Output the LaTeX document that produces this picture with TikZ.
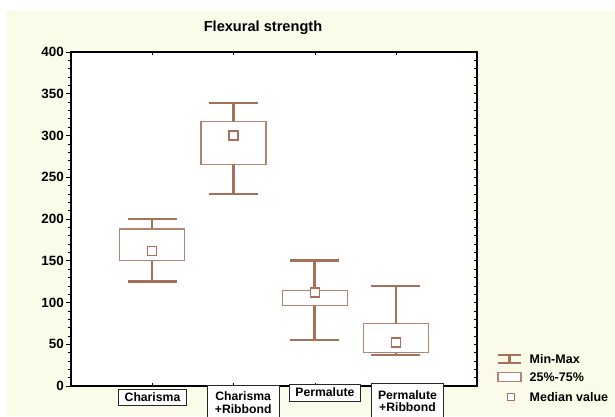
\documentclass[tikz,border=0pt]{standalone}
\usepackage{fontspec}
\setmainfont{Liberation Sans}
\usetikzlibrary{
    positioning,
    calc,
}
\definecolor{bgyellow}{RGB}{251,251,234}
\definecolor{whisk}{RGB}{165,112,92}
\definecolor{boxline}{RGB}{180,130,110}

\begin{document}
\begin{tikzpicture}[
    x=1pt, y=1pt,
    ticklabel/.style={anchor=east, inner sep=0pt, font=\fontsize{13.4}{14}\selectfont\bfseries},
    catlabel/.style={draw=black!85, fill=white, line width=0.9pt, inner sep=0pt, align=center, font=\fontsize{12.2}{12.6}\selectfont\bfseries},
    legendtext/.style={anchor=west, inner sep=0pt, font=\fontsize{12.5}{13}\selectfont\bfseries},
    whisker/.style={draw=whisk, line width=2.6pt},
    quartile/.style={draw=boxline, fill=white, line width=1.2pt},
    median/.style={draw=whisk, fill=white, line width=1.3pt, inner sep=0pt},
]
\useasboundingbox (0,0) rectangle (615,416);
\fill[white] (0,0) rectangle (615,416);
\fill[bgyellow] (6,0) rectangle (615,405);

\node[font=\fontsize{14.6}{15}\selectfont\bfseries, inner sep=0pt] (title) at (263,388.5) {Flexural strength};

% plot area, y in data units
\begin{scope}[shift={(0,30)}, y=0.835pt]
\fill[white] (71,0) rectangle (477,400);
\foreach \v in {0,10,...,400} {
    \draw[line width=0.6pt] (68,\v) -- (71,\v);
    \draw[line width=0.6pt] (474,\v) -- (477,\v);
}
\foreach \v in {0,50,...,400} {
    \draw[line width=0.8pt] (66,\v) -- (71,\v);
    \node[ticklabel] (y\v) at (64,\v) {\v};
}
\foreach \x in {152,233.5,315,396} {
    \draw[line width=0.8pt] (\x,400) -- (\x,396.5);
    \draw[line width=0.8pt] (\x,0) -- (\x,3.5);
}
\draw[line width=1.1pt] (71,0) rectangle (477,400);

\foreach \x/\lo/\qa/\md/\qb/\hi in {152/125/150/162/188/200, 233.5/230/265/300/317/339, 314.7/55/96/112/114/150, 395.8/37/40/52/75/120} {
    \draw[whisker] (\x-24.5,\lo) -- (\x+24.5,\lo) (\x,\lo) -- (\x,\qa)
        (\x,\qb) -- (\x,\hi) (\x-24.5,\hi) -- (\x+24.5,\hi);
    \draw[quartile] (\x-32.5,\qa) rectangle (\x+32.5,\qb);
    \node[median, minimum size=9pt] (med\x) at (\x,\md) {};
}
\end{scope}

\node[catlabel, minimum width=68.4pt, minimum height=16.7pt] (cat1) at (152.5,18.6) {Charisma};
\node[catlabel, minimum width=71.7pt, minimum height=33.6pt] (cat2) at (243.2,13.5) {Charisma\\+Ribbond};
\node[catlabel, minimum width=71.7pt, minimum height=17pt] (cat3) at (324.9,23.5) {Permalute};
\node[catlabel, minimum width=71.7pt, minimum height=35.4pt] (cat4) at (407.5,15) {Permalute\\+Ribbond};

% legend
\draw[whisker, line width=2.4pt] (498,61) -- (521,61) (509.5,61) -- (509.5,53) (498,53) -- (521,53);
\draw[quartile] (498,34.3) rectangle (521,43.3);
\node[median, minimum size=7pt] (legmed) at (511,19.3) {};
\node[legendtext] (legminmax) at (529.5,57) {Min-Max};
\node[legendtext] (legbox) at (529.5,38.5) {25\%-75\%};
\node[legendtext] (legmedtext) at (529.5,19.3) {Median value};

\end{tikzpicture}
\end{document}
